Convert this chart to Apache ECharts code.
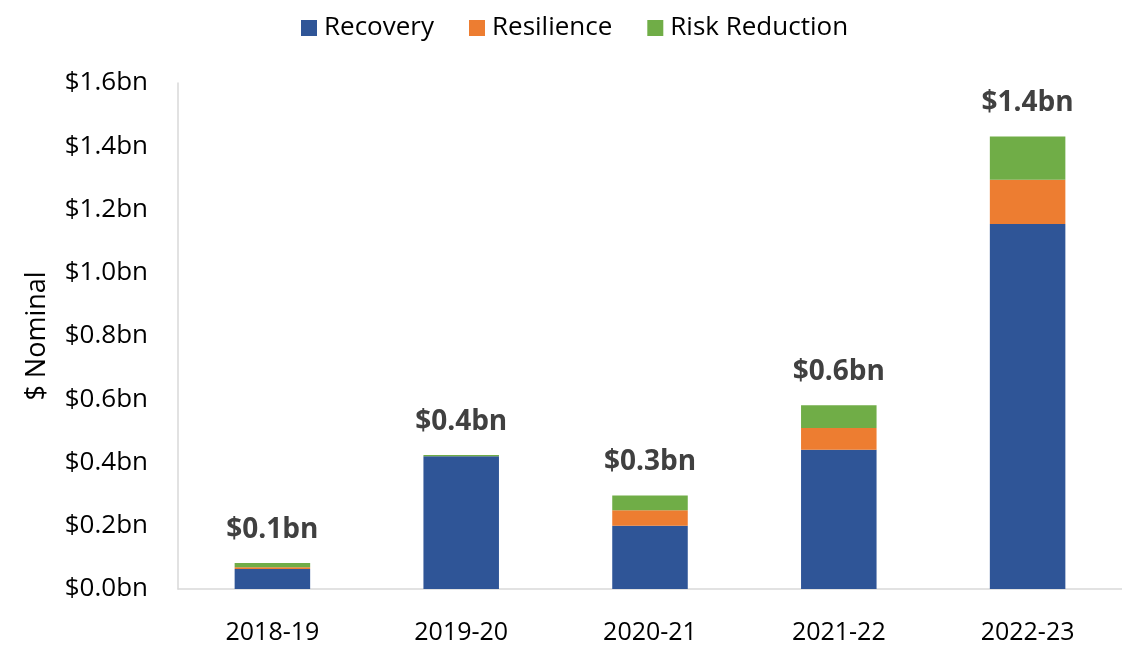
<!DOCTYPE html>
<html>
<head>
<meta charset="utf-8">
<script src="https://cdn.jsdelivr.net/npm/echarts@6/dist/echarts.min.js"></script>
<style>
  html, body { margin: 0; padding: 0; background: #ffffff; }
  #chart { width: 1122px; height: 648px; }
</style>
</head>
<body>
<div id="chart"></div>
<script>
// Funding by financial year, $bn nominal
const years = ['2018-19', '2019-20', '2020-21', '2021-22', '2022-23'];
const recovery = [0.063, 0.420, 0.200, 0.440, 1.154];
const resilience = [0.006, 0.000, 0.049, 0.069, 0.140];
const riskReduction = [0.013, 0.004, 0.047, 0.072, 0.137];
const yTicks = [0, 0.2, 0.4, 0.6, 0.8, 1.0, 1.2, 1.4, 1.6];

const totals = years.map((_, i) => recovery[i] + resilience[i] + riskReduction[i]);
const fontFamily = '"Open Sans", "Noto Sans", sans-serif';

const chart = echarts.init(document.getElementById('chart'));
chart.setOption({
  animation: false,
  textStyle: { fontFamily },
  legend: {
    top: 10,
    left: 296,
    itemWidth: 16,
    itemHeight: 16,
    itemGap: 35,
    icon: 'rect',
    textStyle: { fontSize: 26, color: '#000', fontFamily, padding: [0, 0, 0, 2] },
    data: ['Recovery', 'Resilience', 'Risk Reduction']
  },
  grid: { left: 178, top: 83, width: 954, height: 506 },
  xAxis: {
    type: 'category',
    data: years,
    axisLine: { lineStyle: { color: '#d9d9d9', width: 1.5 } },
    axisTick: { show: false },
    axisLabel: { fontSize: 25, color: '#000', margin: 31, fontFamily }
  },
  yAxis: {
    type: 'value',
    min: yTicks[0],
    max: yTicks[yTicks.length - 1],
    interval: 0.2,
    name: '$ Nominal',
    nameLocation: 'middle',
    nameGap: 127,
    nameRotate: 90,
    nameTextStyle: { fontSize: 27, color: '#000', fontFamily },
    axisLine: { show: true, lineStyle: { color: '#d9d9d9', width: 1.5 } },
    axisTick: { show: false },
    splitLine: { show: false },
    axisLabel: {
      fontSize: 26,
      color: '#000',
      margin: 30,
      fontFamily,
      formatter: v => '$' + v.toFixed(1) + 'bn'
    }
  },
  series: [
    {
      name: 'Recovery', type: 'bar', stack: 'total', barWidth: '40%',
      itemStyle: { color: '#2F5597' },
      data: recovery
    },
    {
      name: 'Resilience', type: 'bar', stack: 'total',
      itemStyle: { color: '#ED7D31' },
      data: resilience
    },
    {
      name: 'Risk Reduction', type: 'bar', stack: 'total',
      itemStyle: { color: '#70AD47' },
      data: riskReduction,
      label: {
        show: true,
        position: 'top',
        distance: 19,
        fontSize: 28,
        fontWeight: 'bold',
        color: '#404040',
        fontFamily,
        formatter: p => '$' + totals[p.dataIndex].toFixed(1) + 'bn'
      }
    }
  ]
});
</script>
</body>
</html>
